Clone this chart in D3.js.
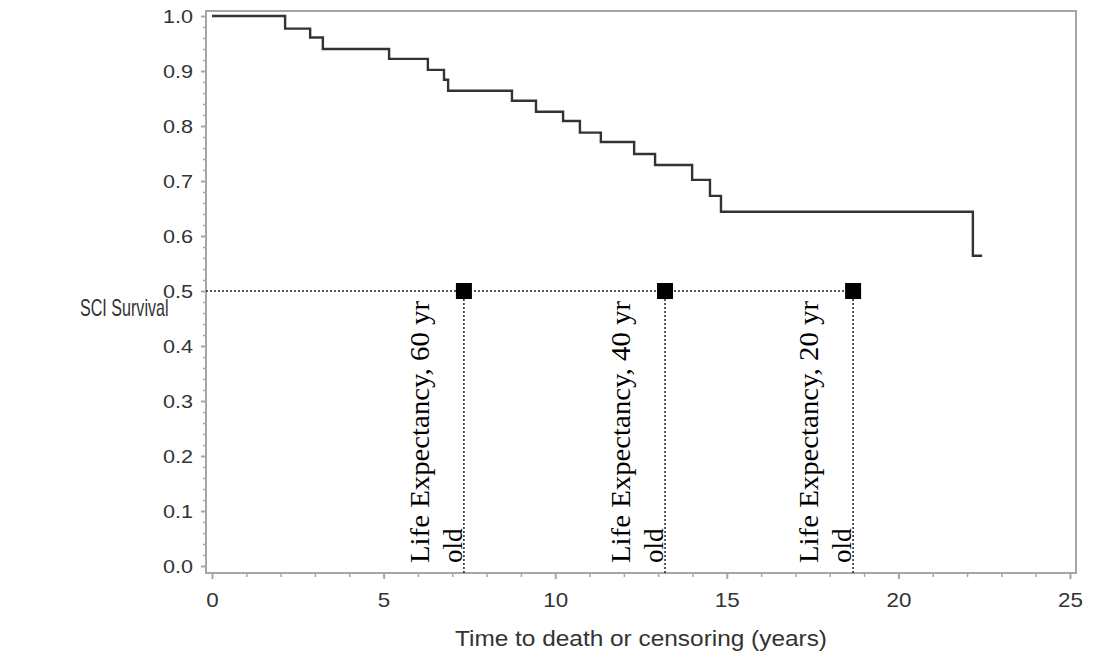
<!DOCTYPE html>
<html>
<head>
<meta charset="utf-8">
<script src="https://cdn.jsdelivr.net/npm/d3@7"></script>
<style>
  html, body { margin: 0; padding: 0; background: #fff; }
  svg { display: block; }
</style>
</head>
<body>
<svg id="chart" width="1098" height="661"></svg>
<script>
// ---- Data ----
const eventTimes = [0, 2.13, 2.86, 3.23, 5.16, 6.29, 6.76, 6.88, 8.74, 9.44, 10.23, 10.72, 11.33, 12.30, 12.91, 13.99, 14.51, 14.83, 22.17];
const survival   = [1.0, 0.977, 0.961, 0.940, 0.922, 0.902, 0.884, 0.864, 0.846, 0.826, 0.809, 0.788, 0.771, 0.749, 0.729, 0.702, 0.673, 0.644, 0.564];
const lastTime = 22.44;
const medianLevel = 0.5;
const lifeExpTimes = [7.34, 13.2, 18.68];
const lifeExpLine1 = ["Life Expectancy, 60 yr", "Life Expectancy, 40 yr", "Life Expectancy, 20 yr"];
const lifeExpLine2 = ["old", "old", "old"];
const xTicks = [0, 5, 10, 15, 20, 25];
const yTicks = [0, 0.1, 0.2, 0.3, 0.4, 0.5, 0.6, 0.7, 0.8, 0.9, 1.0];
const xLabel = "Time to death or censoring (years)";
const yLabel = "SCI Survival";

// ---- Layout ----
const svg = d3.select("#chart");
const x = d3.scaleLinear().domain([0, 25]).range([212, 1070]);
const y = d3.scaleLinear().domain([0, 1]).range([566, 16]);
const frame = {left: 206, right: 1076, top: 11, bottom: 573};
const axisColor = "#a6a6a6";
const textColor = "#333";
const sans = "Arial, 'Liberation Sans', sans-serif";

// frame
svg.append("rect")
  .attr("x", frame.left).attr("y", frame.top)
  .attr("width", frame.right - frame.left).attr("height", frame.bottom - frame.top)
  .attr("fill", "none").attr("stroke", axisColor).attr("stroke-width", 2);

// x axis
const xAxisMajor = d3.axisBottom(x).tickValues(xTicks).tickFormat(d3.format("d")).tickSize(6).tickPadding(14);
const gx = svg.append("g").attr("transform", `translate(0,${frame.bottom})`).call(xAxisMajor);
gx.select(".domain").remove();
gx.selectAll(".tick line").attr("stroke", axisColor).attr("stroke-width", 2);
gx.selectAll(".tick text").attr("fill", textColor).attr("font-family", sans).attr("font-size", 20)
  .attr("transform", "scale(1.12,1)");
const xMinor = d3.range(0, 25.001, 1).filter(v => v % 5 !== 0);
const gxm = svg.append("g").attr("transform", `translate(0,${frame.bottom})`)
  .call(d3.axisBottom(x).tickValues(xMinor).tickSize(4).tickFormat(""));
gxm.select(".domain").remove();
gxm.selectAll(".tick line").attr("stroke", axisColor).attr("stroke-width", 1.5);

// y axis
const yAxisMajor = d3.axisLeft(y).tickValues(yTicks).tickFormat(d3.format(".1f")).tickSize(5).tickPadding(8);
const gy = svg.append("g").attr("transform", `translate(${frame.left},0)`).call(yAxisMajor);
gy.select(".domain").remove();
gy.selectAll(".tick line").attr("stroke", axisColor).attr("stroke-width", 2);
gy.selectAll(".tick text").attr("fill", textColor).attr("font-family", sans).attr("font-size", 19)
  .attr("textLength", 30).attr("lengthAdjust", "spacingAndGlyphs");
const yMinor = d3.range(0, 1.0001, 0.02).filter(v => Math.abs(Math.round(v * 10) - v * 10) > 1e-6);
const gym = svg.append("g").attr("transform", `translate(${frame.left},0)`)
  .call(d3.axisLeft(y).tickValues(yMinor).tickSize(3).tickFormat(""));
gym.select(".domain").remove();
gym.selectAll(".tick line").attr("stroke", axisColor).attr("stroke-width", 1.5);

// axis titles
svg.append("text").attr("x", 455).attr("y", 646)
  .attr("fill", textColor).attr("font-family", sans).attr("font-size", 22)
  .attr("textLength", 372).attr("lengthAdjust", "spacingAndGlyphs")
  .text(xLabel);
svg.append("text")
  .attr("transform", "translate(80,316) scale(0.7,1)")
  .attr("fill", textColor).attr("font-family", sans).attr("font-size", 23)
  .text(yLabel);

// survival step curve
const pts = eventTimes.map((t, i) => [t, survival[i]]);
pts.push([lastTime, survival[survival.length - 1]]);
const line = d3.line().x(d => x(d[0])).y(d => y(d[1])).curve(d3.curveStepAfter);
svg.append("path").datum(pts)
  .attr("d", line).attr("fill", "none").attr("stroke", "#333").attr("stroke-width", 2.4);

// median reference lines
svg.append("line")
  .attr("x1", frame.left).attr("x2", x(d3.max(lifeExpTimes)))
  .attr("y1", y(medianLevel)).attr("y2", y(medianLevel))
  .attr("stroke", "#222").attr("stroke-width", 1.5).attr("stroke-dasharray", "2,2");
svg.selectAll(".vref").data(lifeExpTimes).join("line")
  .attr("x1", d => x(d)).attr("x2", d => x(d))
  .attr("y1", y(medianLevel)).attr("y2", frame.bottom)
  .attr("stroke", "#222").attr("stroke-width", 1.5).attr("stroke-dasharray", "2,2");

// markers
const ms = 16;
svg.selectAll(".marker").data(lifeExpTimes).join("rect")
  .attr("x", d => x(d) - ms / 2).attr("y", y(medianLevel) - ms / 2)
  .attr("width", ms).attr("height", ms).attr("fill", "#000");

// rotated labels
lifeExpTimes.forEach((t, i) => {
  const bx = x(t) - 2;
  const g = svg.append("g");
  g.append("text")
    .attr("transform", `translate(${bx - 33},563) rotate(-90)`)
    .attr("font-family", "'Times New Roman', 'Liberation Serif', serif").attr("font-size", 27)
    .attr("textLength", 262).attr("lengthAdjust", "spacingAndGlyphs")
    .attr("fill", "#000").text(lifeExpLine1[i]);
  g.append("text")
    .attr("transform", `translate(${bx},563) rotate(-90)`)
    .attr("font-family", "'Times New Roman', 'Liberation Serif', serif").attr("font-size", 27)
    .attr("fill", "#000").text(lifeExpLine2[i]);
});
</script>
</body>
</html>
